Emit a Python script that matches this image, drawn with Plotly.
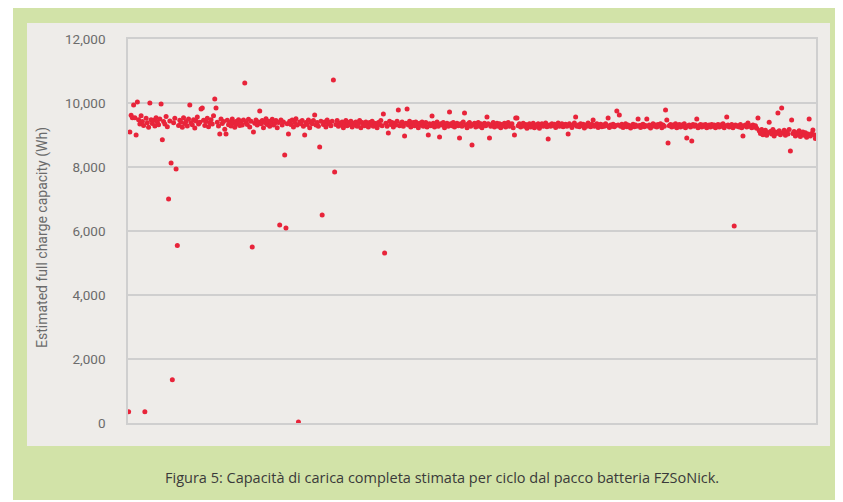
import plotly.graph_objects as go

# Estimated full charge capacity per cycle (Wh)
capacity_wh = [
    350, 9094, 9620, 9540, 9937, 9540, 9000, 10031, 9480, 9340, 9600, 9420, 9300, 350, 9520, 9380, 9240, 10000, 9480, 9360,
    9460, 9280, 9540, 9400, 9320, 9500, 9969, 8850, 9420, 9340, 9580, 9260, 7000, 9440, 8125, 1350, 9380, 9520, 7940, 5550,
    9300, 9460, 9400, 9240, 9540, 9360, 9420, 9280, 9500, 9937, 9380, 9320, 9480, 9220, 9440, 9560, 9340, 9400, 9810, 9840,
    9460, 9300, 9420, 9520, 9260, 9380, 9480, 9340, 9600, 10125, 9844, 9400, 9280, 9031, 9500, 9360, 9420, 9180, 9031, 9460,
    9320, 9400, 9280, 9500, 9380, 9240, 9420, 9340, 9480, 9300, 9430, 9310, 9470, 10625, 9390, 9330, 9490, 9250, 9430, 5500,
    9094, 9370, 9470, 9310, 9410, 9750, 9350, 9450, 9230, 9390, 9510, 9330, 9430, 9270, 9410, 9490, 9310, 9370, 9450, 9230,
    9390, 6190, 9470, 9310, 9410, 8375, 6094, 9350, 9030, 9430, 9330, 9470, 9250, 9390, 9510, 9310, 30, 9410, 9350, 9450,
    9270, 9000, 9390, 9330, 9470, 9230, 9410, 9350, 9450, 9625, 9310, 9390, 9270, 8625, 9430, 6500, 9330, 9410, 9250, 9470,
    9350, 9390, 9290, 9430, 10719, 7844, 9330, 9450, 9270, 9370, 9310, 9410, 9230, 9350, 9450, 9290, 9390, 9330, 9430, 9250,
    9370, 9310, 9410, 9270, 9350, 9450, 9230, 9390, 9330, 9290, 9410, 9350, 9250, 9390, 9310, 9430, 9270, 9370, 9330, 9230,
    9390, 9330, 9450, 9290, 9656, 5312, 9370, 9270, 9060, 9430, 9330, 9390, 9250, 9370, 9310, 9430, 9780, 9290, 9350, 9410,
    9270, 8970, 9370, 9812, 9310, 9430, 9250, 9350, 9390, 9290, 9410, 9330, 9230, 9370, 9310, 9410, 9270, 9350, 9390, 9250,
    9000, 9350, 9290, 9594, 9370, 9250, 9330, 9410, 9270, 8940, 9350, 9310, 9390, 9230, 9330, 9370, 9270, 9719, 9350, 9290,
    9390, 9250, 9330, 9370, 9290, 8906, 9350, 9270, 9410, 9687, 9310, 9230, 9350, 9390, 9270, 8687, 9330, 9370, 9250, 9310,
    9390, 9270, 9350, 9230, 9330, 9370, 9290, 9562, 9350, 8906, 9270, 9330, 9390, 9250, 9310, 9370, 9270, 9350, 9230, 9330,
    9290, 9370, 9250, 9330, 9390, 9270, 9310, 9350, 9230, 9000, 9530, 9530, 9290, 9350, 9250, 9310, 9370, 9270, 9330, 9210,
    9310, 9350, 9250, 9290, 9370, 9230, 9310, 9270, 9350, 9210, 9315, 9355, 9275, 9335, 9375, 9255, 8875, 9315, 9275, 9355,
    9295, 9335, 9235, 9315, 9375, 9275, 9295, 9355, 9255, 9315, 9335, 9275, 9030, 9355, 9295, 9235, 9315, 9375, 9560, 9275,
    9315, 9255, 9355, 9295, 9335, 9215, 9315, 9275, 9375, 9295, 9255, 9335, 9470, 9275, 9315, 9355, 9235, 9295, 9335, 9255,
    9315, 9275, 9355, 9295, 9530, 9235, 9315, 9275, 9335, 9255, 9295, 9750, 9315, 9625, 9275, 9335, 9235, 9295, 9355, 9255,
    9315, 9275, 9215, 9295, 9335, 9255, 9315, 9275, 9500, 9295, 9235, 9315, 9335, 9255, 9295, 9500, 9275, 9315, 9215, 9295,
    9350, 9270, 9310, 9250, 9330, 9290, 9350, 9230, 9310, 9270, 9780, 9470, 8750, 9290, 9330, 9250, 9310, 9270, 9350, 9230,
    9290, 9330, 9250, 9310, 9270, 9350, 9230, 8906, 9290, 9310, 9250, 8812, 9330, 9270, 9310, 9500, 9230, 9290, 9330, 9250,
    9310, 9270, 9330, 9230, 9290, 9310, 9250, 9330, 9270, 9310, 9230, 9290, 9330, 9250, 9310, 9270, 9350, 9230, 9290, 9560,
    9310, 9250, 9290, 9330, 9230, 6156, 9310, 9270, 9290, 9250, 9330, 9230, 8970, 9290, 9310, 9250, 9375, 9270, 9290, 9230,
    9310, 9250, 9290, 9210, 9530, 9130, 9050, 9170, 9010, 9090, 9150, 8990, 9070, 9400, 9110, 9030, 9170, 8970, 9090, 9050,
    9690, 9130, 9010, 9844, 9070, 9150, 8990, 9090, 9030, 9170, 8500, 9470, 9050, 9110, 8970, 9070, 9010, 9130, 8950, 9050,
    9090, 8990, 9070, 8930, 9030, 9500, 8970, 9050, 9156, 9010, 8890,
]
cycles = list(range(len(capacity_wh)))

y_ticks = [0, 2000, 4000, 6000, 8000, 10000, 12000]
y_title = "Estimated full charge capacity (Wh)"
caption = "Figura 5: Capacità di carica completa stimata per ciclo dal pacco batteria FZSoNick."

GREEN = "#d2e3a8"
PANEL = "#eeece9"
GRID = "#cfcfcf"

OFF = 8                      # page margin of the browser body
W, H = 843 - OFF, 502 - OFF
SL, SR, ST, SB = 128, 816, 39, 423   # plot area in screen pixels
L, T = SL - OFF, ST - OFF
R, B = W - (SR - OFF), H - (SB - OFF)
pw, ph = SR - SL, SB - ST


def px(x):
    return (x - SL) / pw


def py(y):
    return (SB - y) / ph


fig = go.Figure()
fig.add_trace(go.Scatter(
    x=cycles, y=capacity_wh, mode="markers",
    marker=dict(color="#e8243a", size=5, line=dict(width=0)),
    cliponaxis=False, hoverinfo="skip",
))

fig.update_layout(
    width=W, height=H,
    margin=dict(l=L, r=R, t=T, b=B),
    paper_bgcolor="white",
    plot_bgcolor=PANEL,
    showlegend=False,
    shapes=[
        dict(type="rect", xref="paper", yref="paper", layer="below",
             x0=px(13), x1=px(838), y0=py(500), y1=py(7),
             fillcolor=GREEN, line=dict(width=0)),
        dict(type="rect", xref="paper", yref="paper", layer="below",
             x0=px(27), x1=px(830), y0=py(446), y1=py(23),
             fillcolor=PANEL, line=dict(width=0)),
    ],
    annotations=[
        dict(text=y_title, xref="paper", yref="paper", x=px(42), y=py(238),
             textangle=-90, showarrow=False, xanchor="center", yanchor="middle",
             font=dict(family="Roboto", size=14, color="#6b6b6b")),
        dict(text=caption, xref="paper", yref="paper", x=px(442), y=py(477),
             showarrow=False, xanchor="center", yanchor="middle",
             font=dict(family="Open Sans", size=14.5, color="#3a3a3a")),
    ],
)
fig.update_xaxes(range=[-0.5, 550.5], showticklabels=False, showgrid=False,
                 zeroline=False, showline=True, linecolor=GRID, linewidth=1.5,
                 mirror=True, ticks="")
fig.update_yaxes(range=[0, 12000], tickvals=y_ticks, tickformat=",d",
                 showgrid=True, gridcolor=GRID, gridwidth=1.5, zeroline=False,
                 showline=True, linecolor=GRID, linewidth=1.5, mirror=True,
                 ticks="outside", ticklen=18, tickcolor="rgba(0,0,0,0)",
                 tickfont=dict(family="Roboto", size=13.5, color="#6b6b6b"))

fig.write_html("out.html")
